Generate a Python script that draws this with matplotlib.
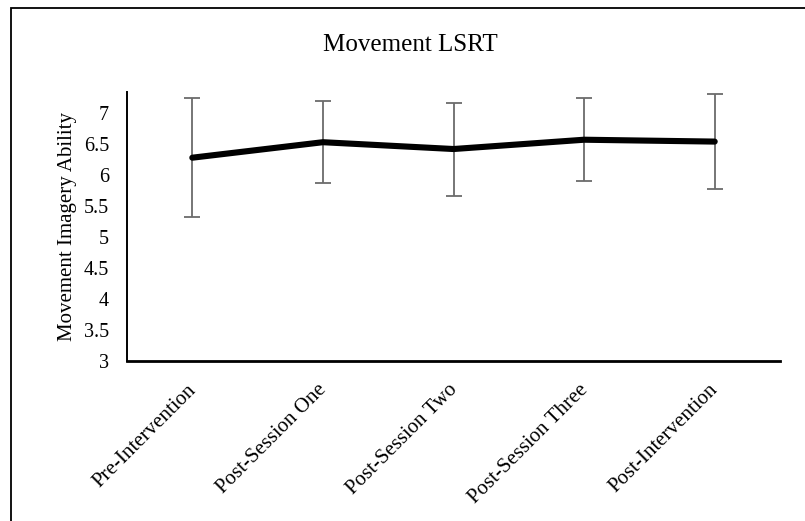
import matplotlib
matplotlib.use("Agg")
import matplotlib.pyplot as plt
import matplotlib.transforms as mtransforms
from matplotlib.patches import Rectangle

#%% --- Data ---

sessions = ["Pre-Intervention", "Post-Session One", "Post-Session Two",
            "Post-Session Three", "Post-Intervention"]
mean_scores = [6.28, 6.53, 6.42, 6.57, 6.54]
error_sizes = [0.96, 0.66, 0.75, 0.67, 0.76]
y_ticks = [3, 3.5, 4, 4.5, 5, 5.5, 6, 6.5, 7]
y_tick_labels = ["3", "3.5", "4", "4.5", "5", "5.5", "6", "6.5", "7"]

#%% --- Figure ---

plt.rcParams["font.family"] = ["Liberation Serif", "DejaVu Serif"]

fig = plt.figure(figsize=(8.05, 5.21), dpi=100)
ax = fig.add_axes([127 / 805, 1 - 361 / 521, 653 / 805, 269 / 521])

x = list(range(len(sessions)))

# error bars sit under the thick line
ax.errorbar(x, mean_scores, yerr=error_sizes,
            fmt="none",
            ecolor="#6b6b6b",
            elinewidth=1.3,
            capsize=5.5,
            capthick=1.3,
            zorder=2)
ax.plot(x, mean_scores,
        color="black",
        linewidth=4.4,
        solid_capstyle="round",
        solid_joinstyle="round",
        zorder=3)

# --- Axes styling ---
ax.set_xlim(-0.5, len(sessions) - 0.5)
ax.set_ylim(3, 7.34)
ax.set_yticks(y_ticks)
ax.set_yticklabels(y_tick_labels, fontsize=14.5)
ax.set_xticks(x)
ax.set_xticklabels(sessions, fontsize=15, rotation=45,
                   ha="right", va="top", rotation_mode="anchor")
ax.tick_params(axis="both", length=0)
ax.tick_params(axis="y", pad=13)
ax.tick_params(axis="x", pad=14)

# nudge rotated labels a little left, like the reference
shift = mtransforms.ScaledTranslation(-6 / 100, 0, fig.dpi_scale_trans)
for label in ax.get_xticklabels():
    label.set_transform(label.get_transform() + shift)

for side in ["top", "right"]:
    ax.spines[side].set_visible(False)
ax.spines["left"].set_linewidth(1.4)
ax.spines["bottom"].set_linewidth(2.0)

ax.set_ylabel("Movement Imagery Ability", fontsize=15, labelpad=5)

fig.text(410 / 805, 1 - 45 / 521, "Movement LSRT",
         ha="center", va="center", fontsize=18)

# --- Outer chart frame (cut off at right and bottom) ---
frame = Rectangle((11 / 805, -0.05), 1.1, 1 - 8 / 521 + 0.05,
                  transform=fig.transFigure,
                  fill=False, edgecolor="black", linewidth=1.3)
fig.patches.append(frame)

fig.savefig("out.png", dpi=100)
